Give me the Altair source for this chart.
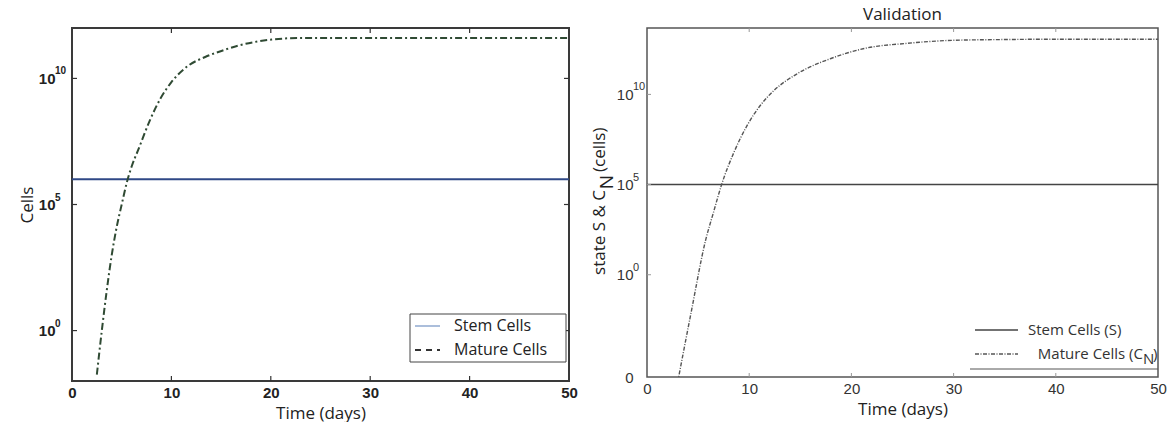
import altair as alt
import pandas as pd

# ---- Model output: cell counts over time (days) ----
# Left panel: simulated stem and mature cell populations
time_days_left = [2.5, 3.0, 3.5, 4.0, 4.5, 5.0, 5.5, 6.0, 6.7, 7.9, 8.9, 10.0, 11.7,
                  13.4, 15.1, 16.7, 18.4, 20.1, 23.0, 30.0, 40.0, 50.0]
mature_cells_left = [1.8e-2, 1.0, 40, 1.0e3, 1.3e4, 1.0e5, 7.1e5, 3.2e6, 1.6e7, 2.5e8,
                     1.6e9, 7.1e9, 3.2e10, 7.1e10, 1.26e11, 2.0e11, 2.8e11, 3.5e11,
                     4.0e11, 4.0e11, 4.0e11, 4.0e11]
stem_time = [0, 50]
stem_cells_left = [1.0e6, 1.0e6]

# Right panel: validation run, state S and C_N
time_days_right = [3.0, 4.3, 5.75, 6.5, 7.3, 8.5, 9.8, 11.1, 12.45, 14.7, 18.0, 21.25,
                   25.5, 30.0, 35.0, 40.0, 50.0]
mature_cells_right = [1.1e-6, 7.2e-3, 89, 2.8e3, 1.0e5, 6.0e6, 1.9e8, 2.5e9, 1.7e10,
                      1.4e11, 9.8e11, 3.5e12, 6.8e12, 1.0e13, 1.1e13, 1.15e13, 1.15e13]
stem_cells_right = [1.0e5, 1.0e5]

# Axis ticks
x_tick_values = [0, 10, 20, 30, 40, 50]
x_inner_ticks = [10, 20, 30, 40]
y_tick_values = [1.0, 1.0e5, 1.0e10]
y_tick_exponents = ["0", "5", "10"]

LEFT_Y_MIN, LEFT_Y_MAX = 1.0e-2, 1.0e12
RIGHT_Y_MIN, RIGHT_Y_MAX = 2.14e-6, 4.8e13

W_L, H_L = 497, 353
W_R, H_R = 511, 349

TXT = "Open Sans"
NUM = "Liberation Sans"

one = pd.DataFrame({"k": [0]})
xt = pd.DataFrame({"t": x_inner_ticks})
yt = pd.DataFrame({"v": y_tick_values, "e": y_tick_exponents})

# ================= Left panel =================
lx = alt.Scale(domain=[0, 50], nice=False, zero=False)
ly = alt.Scale(type="log", domain=[LEFT_Y_MIN, LEFT_Y_MAX], nice=False)

left_x_axis = alt.Axis(values=x_tick_values, title="Time (days)", labelFont=NUM,
                       labelFontWeight="bold", labelFontSize=15, labelColor="#222",
                       labelPadding=4, labelFlush=False, ticks=False, domain=False,
                       grid=False, titleFont=TXT, titleFontSize=17,
                       titleFontWeight="normal", titleColor="#222", titlePadding=5)
left_y_axis = alt.Axis(values=y_tick_values, labelExpr="'10'", title="Cells",
                       labelFont=NUM, labelFontWeight="bold", labelFontSize=15,
                       labelColor="#222", labelPadding=17, ticks=False, domain=False,
                       grid=False, titleFont=TXT, titleFontSize=17,
                       titleFontWeight="normal", titleColor="#222", titlePadding=2)


def lX(field):
    return alt.X(field, scale=lx, axis=left_x_axis)


def lY(field):
    return alt.Y(field, scale=ly, axis=left_y_axis)


stem_l = alt.Chart(pd.DataFrame({"t": stem_time, "cells": stem_cells_left})).mark_line(
    color="#2f4886", strokeWidth=2, clip=True
).encode(x=lX("t:Q"), y=lY("cells:Q"))

mature_l = alt.Chart(pd.DataFrame({"t": time_days_left, "cells": mature_cells_left})).mark_line(
    color="#2f4a33", strokeWidth=2, strokeDash=[7, 3, 2, 3], interpolate="monotone", clip=True
).encode(x=lX("t:Q"), y=lY("cells:Q"))

tick_l_bottom = alt.Chart(xt).mark_rule(color="#333", strokeWidth=1.2).encode(
    x=lX("t:Q"), y=alt.value(H_L), y2=alt.value(H_L - 5))
tick_l_top = alt.Chart(xt).mark_rule(color="#333", strokeWidth=1.2).encode(
    x=lX("t:Q"), y=alt.value(0), y2=alt.value(5))
tick_l_left = alt.Chart(yt).mark_rule(color="#333", strokeWidth=1.2).encode(
    y=lY("v:Q"), x=alt.value(0), x2=alt.value(5))
tick_l_right = alt.Chart(yt).mark_rule(color="#333", strokeWidth=1.2).encode(
    y=lY("v:Q"), x=alt.value(W_L), x2=alt.value(W_L - 5))
exp_l = alt.Chart(yt).mark_text(align="left", baseline="middle", dy=-7, font=NUM,
                                fontSize=10, fontWeight="bold", color="#222").encode(
    y=lY("v:Q"), x=alt.value(-17), text="e:N")

leg_box_l = alt.Chart(one).mark_rect(fill="white", stroke="#444", strokeWidth=1).encode(
    x=alt.value(338), x2=alt.value(494), y=alt.value(286), y2=alt.value(334))
leg_stem_l = alt.Chart(one).mark_rule(color="#8fa9cf", strokeWidth=1.5).encode(
    x=alt.value(343), x2=alt.value(368), y=alt.value(298))
leg_mat_l = alt.Chart(one).mark_rule(color="#333", strokeWidth=2, strokeDash=[6, 5]).encode(
    x=alt.value(343), x2=alt.value(368), y=alt.value(322))
leg_txt_l1 = alt.Chart(one).mark_text(align="left", baseline="middle", font=TXT,
                                      fontSize=16, color="#222").encode(
    x=alt.value(382), y=alt.value(298), text=alt.value("Stem Cells"))
leg_txt_l2 = alt.Chart(one).mark_text(align="left", baseline="middle", font=TXT,
                                      fontSize=16, color="#222").encode(
    x=alt.value(382), y=alt.value(322), text=alt.value("Mature Cells"))

left = alt.layer(
    stem_l, mature_l, tick_l_bottom, tick_l_top, tick_l_left, tick_l_right, exp_l,
    leg_box_l, leg_stem_l, leg_mat_l, leg_txt_l1, leg_txt_l2,
).properties(
    width=W_L, height=H_L,
    title=alt.TitleParams(" ", font=TXT, fontSize=17, fontWeight="normal", offset=4),
    view=alt.ViewBackground(stroke="#3a3a3a", strokeWidth=2),
)

# ================= Right panel =================
rx = alt.Scale(domain=[0, 50], nice=False, zero=False)
ry = alt.Scale(type="log", domain=[RIGHT_Y_MIN, RIGHT_Y_MAX], nice=False)

right_x_axis = alt.Axis(values=x_tick_values, title="Time (days)", labelFont=NUM,
                        labelFontSize=15, labelColor="#333", labelPadding=4,
                        labelFlush=False, ticks=False, domain=False, grid=False,
                        titleFont=TXT, titleFontSize=17, titleFontWeight="normal",
                        titleColor="#222", titlePadding=5)
right_y_axis = alt.Axis(values=[RIGHT_Y_MIN] + y_tick_values,
                        labelExpr="datum.value < 1e-3 ? '0' : '10'", title=None,
                        labelFont=NUM, labelFontSize=15, labelColor="#333",
                        labelPadding=14, ticks=False, domain=False, grid=False)


def rX(field):
    return alt.X(field, scale=rx, axis=right_x_axis)


def rY(field):
    return alt.Y(field, scale=ry, axis=right_y_axis)


stem_r = alt.Chart(pd.DataFrame({"t": stem_time, "cells": stem_cells_right})).mark_line(
    color="#444", strokeWidth=1.6, clip=True
).encode(x=rX("t:Q"), y=rY("cells:Q"))

mature_r = alt.Chart(pd.DataFrame({"t": time_days_right, "cells": mature_cells_right})).mark_line(
    color="#555", strokeWidth=1.4, strokeDash=[4, 1.5, 1, 1.5], interpolate="monotone", clip=True
).encode(x=rX("t:Q"), y=rY("cells:Q"))

tick_r_bottom = alt.Chart(xt).mark_rule(color="#999", strokeWidth=1).encode(
    x=rX("t:Q"), y=alt.value(H_R), y2=alt.value(H_R - 4))
tick_r_top = alt.Chart(xt).mark_rule(color="#999", strokeWidth=1).encode(
    x=rX("t:Q"), y=alt.value(0), y2=alt.value(4))
tick_r_left = alt.Chart(yt).mark_rule(color="#999", strokeWidth=1).encode(
    y=rY("v:Q"), x=alt.value(0), x2=alt.value(4))
exp_r = alt.Chart(yt).mark_text(align="left", baseline="middle", dy=-7, font=NUM,
                                fontSize=11, color="#333").encode(
    y=rY("v:Q"), x=alt.value(-14), text="e:N")

# y-axis title with subscript N: "state S & C" + "N" + " (cells)"
ytitle_a = alt.Chart(one).mark_text(align="right", baseline="middle", angle=270,
                                    font=TXT, fontSize=17, color="#222").encode(
    x=alt.value(-47), y=alt.value(162), text=alt.value("state S & C"))
ytitle_n = alt.Chart(one).mark_text(align="center", baseline="middle", angle=270,
                                    font=TXT, fontSize=19, color="#222").encode(
    x=alt.value(-40), y=alt.value(154), text=alt.value("N"))
ytitle_b = alt.Chart(one).mark_text(align="left", baseline="middle", angle=270,
                                    font=TXT, fontSize=17, color="#222").encode(
    x=alt.value(-47), y=alt.value(144), text=alt.value(" (cells)"))

leg_line_r = alt.Chart(one).mark_rule(color="#555", strokeWidth=1).encode(
    x=alt.value(323), x2=alt.value(W_R), y=alt.value(341))
leg_stem_r = alt.Chart(one).mark_rule(color="#444", strokeWidth=1.5).encode(
    x=alt.value(328), x2=alt.value(371), y=alt.value(302))
leg_mat_r = alt.Chart(one).mark_rule(color="#555", strokeWidth=1.4,
                                     strokeDash=[4, 1.5, 1, 1.5]).encode(
    x=alt.value(328), x2=alt.value(371), y=alt.value(326))
leg_txt_r1 = alt.Chart(one).mark_text(align="left", baseline="middle", font=TXT,
                                      fontSize=15, color="#333").encode(
    x=alt.value(381), y=alt.value(302), text=alt.value("Stem Cells (S)"))
leg_txt_r2 = alt.Chart(one).mark_text(align="right", baseline="middle", font=TXT,
                                      fontSize=15, color="#333").encode(
    x=alt.value(496), y=alt.value(326), text=alt.value("Mature Cells (C"))
leg_txt_r2n = alt.Chart(one).mark_text(align="left", baseline="middle", dy=5, font=TXT,
                                       fontSize=15, color="#333").encode(
    x=alt.value(496), y=alt.value(326), text=alt.value("N"))
leg_txt_r2p = alt.Chart(one).mark_text(align="left", baseline="middle", font=TXT,
                                       fontSize=15, color="#333").encode(
    x=alt.value(506), y=alt.value(326), text=alt.value(")"))

right = alt.layer(
    stem_r, mature_r, tick_r_bottom, tick_r_top, tick_r_left, exp_r,
    ytitle_a, ytitle_n, ytitle_b,
    leg_line_r, leg_stem_r, leg_mat_r, leg_txt_r1, leg_txt_r2, leg_txt_r2n, leg_txt_r2p,
).properties(
    width=W_R, height=H_R,
    title=alt.TitleParams("Validation", font=TXT, fontSize=17, fontWeight="normal",
                          color="#222", offset=4),
    view=alt.ViewBackground(stroke="#555", strokeWidth=1.5),
)

chart = alt.hconcat(left, right, spacing=11).configure(
    padding={"left": 17, "top": 4, "right": 0, "bottom": 0},
    background="white",
)

chart.save("out.html", embed_options={"renderer": "svg", "actions": False})
